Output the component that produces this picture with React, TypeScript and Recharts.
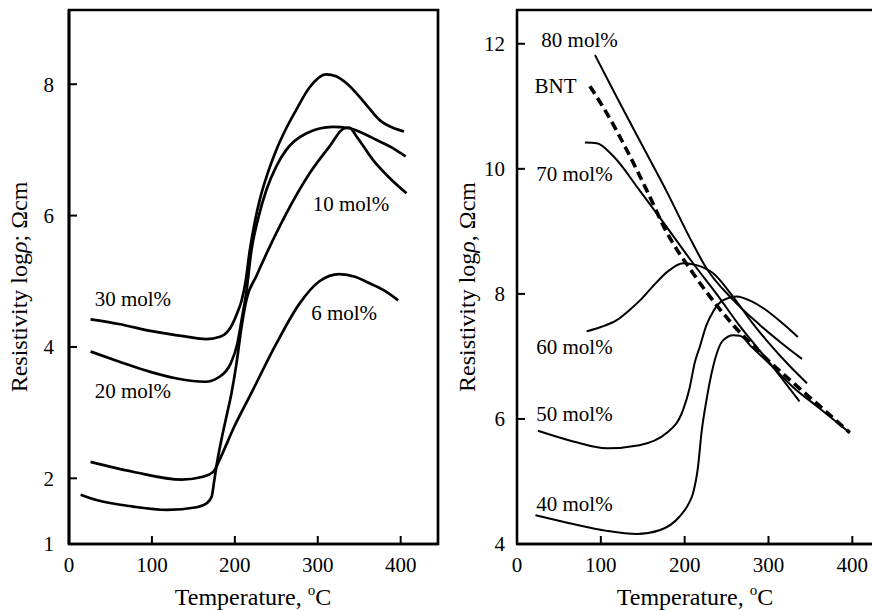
import React from "react";
import { LineChart, Line, XAxis, YAxis, ReferenceArea, ReferenceDot } from "recharts";

const SERIF = '"Liberation Serif", "Times New Roman", serif';

const X_TICKS = [0, 100, 200, 300, 400];
const LEFT_Y_TICKS = [1, 2, 4, 6, 8];
const RIGHT_Y_TICKS = [4, 6, 8, 10, 12];

// left panel: [temperature, log rho]
const L30 = [[26, 4.42], [60, 4.35], [100, 4.24], [140, 4.16], [165, 4.12], [183, 4.16], [195, 4.3], [203, 4.52], [208, 4.7], [213, 5.0], [218, 5.47], [224, 5.9], [230, 6.24], [240, 6.66], [250, 7.0], [262, 7.33], [274, 7.61], [290, 7.95], [310, 8.15], [322, 8.12], [335, 8.01], [355, 7.74], [375, 7.45], [390, 7.34], [404, 7.28]];
const L20 = [[26, 3.93], [60, 3.78], [98, 3.62], [130, 3.52], [164, 3.47], [182, 3.55], [195, 3.75], [203, 4.05], [208, 4.4], [214, 4.85], [220, 5.47], [228, 5.95], [238, 6.39], [250, 6.75], [262, 7.0], [286, 7.25], [318, 7.35], [338, 7.33], [355, 7.25], [371, 7.15], [390, 7.03], [406, 6.9]];
const L10 = [[14, 1.75], [33, 1.67], [77, 1.57], [118, 1.52], [154, 1.56], [166, 1.62], [172, 1.72], [175, 1.95], [178, 2.2], [184, 2.6], [190, 2.95], [196, 3.3], [202, 3.75], [208, 4.3], [214, 4.72], [226, 5.08], [240, 5.47], [262, 6.03], [290, 6.64], [314, 7.05], [332, 7.33], [338, 7.34], [347, 7.2], [367, 6.84], [386, 6.58], [407, 6.34]];
const L6 = [[26, 2.25], [77, 2.1], [136, 1.98], [160, 2.02], [174, 2.1], [184, 2.35], [198, 2.75], [220, 3.3], [250, 4.05], [278, 4.66], [302, 5.0], [326, 5.11], [345, 5.07], [359, 4.99], [380, 4.86], [397, 4.71]];

// right panel
const R80 = [[93, 11.82], [120, 11.12], [150, 10.36], [180, 9.6], [206, 8.9], [226, 8.41], [258, 7.9], [290, 7.5], [315, 7.22], [340, 6.96]];
const RBNT = [[87, 11.32], [107, 10.89], [131, 10.3], [155, 9.65], [178, 9.0], [210, 8.33], [226, 8.03], [258, 7.5], [290, 7.06], [330, 6.57], [360, 6.22], [397, 5.78]];
const R70 = [[81, 10.42], [95, 10.41], [115, 10.2], [146, 9.66], [178, 9.08], [210, 8.49], [238, 8.0], [265, 7.5], [300, 6.92], [337, 6.28]];
const R60 = [[83, 7.4], [100, 7.47], [119, 7.58], [135, 7.75], [147, 7.9], [162, 8.12], [180, 8.36], [198, 8.49], [214, 8.46], [234, 8.33], [258, 7.95], [280, 7.55], [300, 7.22], [325, 6.85], [346, 6.57]];
const R50 = [[25, 5.81], [67, 5.64], [107, 5.53], [146, 5.58], [178, 5.77], [198, 6.14], [206, 6.5], [212, 6.9], [218, 7.15], [226, 7.5], [234, 7.72], [246, 7.9], [262, 7.96], [280, 7.88], [294, 7.77], [315, 7.55], [335, 7.31]];
const R40 = [[22, 4.46], [67, 4.32], [107, 4.21], [143, 4.16], [170, 4.22], [194, 4.44], [205, 4.65], [210, 4.81], [216, 5.24], [220, 5.77], [226, 6.3], [234, 6.84], [246, 7.26], [258, 7.34], [266, 7.33], [280, 7.15], [300, 6.9], [330, 6.5], [360, 6.18], [397, 5.78]];

const LEFT_SERIES = [L30, L20, L10, L6];
const RIGHT_SOLID = [R80, R70, R60, R50, R40];

const LEFT_LABELS: [string, number, number][] = [
  ["30 mol%", 31, 4.74],
  ["20 mol%", 31, 3.34],
  ["10 mol%", 294, 6.19],
  ["6 mol%", 292, 4.52],
];
const RIGHT_LABELS: [string, number, number][] = [
  ["80 mol%", 29, 12.06],
  ["BNT", 21, 11.33],
  ["70 mol%", 23, 9.93],
  ["60 mol%", 23, 7.16],
  ["50 mol%", 23, 6.09],
  ["40 mol%", 23, 4.65],
];

const pts = (a: number[][]) => a.map(([t, v]) => ({ t, v }));

const tickStyle = { fontSize: 21, fill: "#000", fontFamily: SERIF };

function Panel({ width, right, xMax, yDomain, yTicks, yWidth, yMargin, lw, children }: any) {
  return (
    <LineChart width={width} height={610} margin={{ top: 10, right, left: 0, bottom: 0 }}>
      <XAxis type="number" dataKey="t" domain={[0, xMax]} ticks={X_TICKS} interval={0} allowDataOverflow
        height={66} tickSize={-8} tickMargin={21}
        axisLine={{ stroke: "#000", strokeWidth: lw }} tickLine={{ stroke: "#000", strokeWidth: 2 }} tick={tickStyle} />
      <YAxis type="number" domain={yDomain} ticks={yTicks} interval={0} allowDataOverflow
        width={yWidth} tickSize={-8} tickMargin={yMargin}
        axisLine={{ stroke: "#000", strokeWidth: lw }} tickLine={{ stroke: "#000", strokeWidth: 2 }} tick={tickStyle} />
      <ReferenceArea x1={0} x2={xMax} y1={yDomain[0]} y2={yDomain[1]} fill="none" stroke="#000" strokeWidth={lw} ifOverflow="visible" />
      {children}
    </LineChart>
  );
}

function labelDot(text: string, t: number, v: number) {
  return (
    <ReferenceDot key={text} x={t} y={v} r={0} fill="none" stroke="none" ifOverflow="visible"
      label={{ value: text, position: "right", offset: 0, fontSize: 21, fill: "#000", fontFamily: SERIF }} />
  );
}

export default function App() {
  return (
    <div style={{ position: "absolute", left: 0, top: 0, width: 872, height: 610, overflow: "hidden", background: "#fff", fontFamily: SERIF }}>
      <div style={{ position: "absolute", left: 0, top: 0 }}>
        <Panel width={445} right={7} xMax={445} yDomain={[1, 9.13]} yTicks={LEFT_Y_TICKS} yWidth={69} yMargin={23} lw={2.7}>
          {LEFT_SERIES.map((s, i) => (
            <Line key={i} data={pts(s)} dataKey="v" type="monotone" stroke="#000" strokeWidth={2.7} dot={false} isAnimationActive={false} />
          ))}
          {LEFT_LABELS.map(([txt, t, v]) => labelDot(txt, t, v))}
        </Panel>
      </div>
      <div style={{ position: "absolute", left: 445, top: 0 }}>
        <Panel width={440} right={0} xMax={439} yDomain={[4, 12.54]} yTicks={RIGHT_Y_TICKS} yWidth={72} yMargin={20} lw={2.3}>
          {RIGHT_SOLID.map((s, i) => (
            <Line key={i} data={pts(s)} dataKey="v" type="monotone" stroke="#000" strokeWidth={2} dot={false} isAnimationActive={false} />
          ))}
          <Line data={pts(RBNT)} dataKey="v" type="monotone" stroke="#000" strokeWidth={3.6} strokeDasharray="9 5" dot={false} isAnimationActive={false} />
          {RIGHT_LABELS.map(([txt, t, v]) => labelDot(txt, t, v))}
        </Panel>
      </div>
      <svg width={872} height={610} style={{ position: "absolute", left: 0, top: 0, pointerEvents: "none" }}>
        <g fontFamily={SERIF} fontSize={24} fill="#000">
          <text x={253} y={605} textAnchor="middle">
            Temperature, <tspan fontSize={15} dy={-10}>o</tspan><tspan dy={10}>C</tspan>
          </text>
          <text x={695} y={605} textAnchor="middle">
            Temperature, <tspan fontSize={15} dy={-10}>o</tspan><tspan dy={10}>C</tspan>
          </text>
          <text x={27} y={287} textAnchor="middle" transform="rotate(-90 27 287)">
            Resistivity log<tspan fontStyle="italic">ρ</tspan>; Ωcm
          </text>
          <text x={475} y={287} textAnchor="middle" transform="rotate(-90 475 287)">
            Resistivity log<tspan fontStyle="italic">ρ</tspan>, Ωcm
          </text>
        </g>
      </svg>
    </div>
  );
}
